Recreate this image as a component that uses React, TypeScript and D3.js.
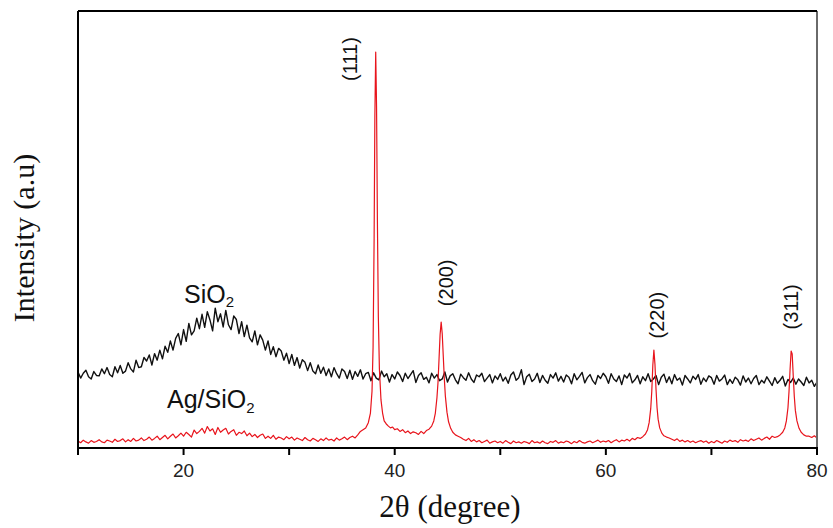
import React from "react";
import * as d3 from "d3";

// ---- data (2θ grid starts at 10°, step 0.25°) ----
const THETA_START = 10;
const THETA_STEP = 0.25;

// SiO2 (black) intensity, a.u.
const sio2Counts: number[] = [
  174,160,171,178,163,158,175,166,
  165,181,170,184,168,163,186,172,
  189,171,176,195,181,174,201,184,
  186,207,199,213,190,216,201,224,
  204,233,219,245,224,251,262,236,
  271,244,285,259,268,297,273,306,
  276,312,293,268,320,289,307,277,
  315,282,271,302,294,262,289,255,
  281,252,243,268,236,259,247,224,
  245,214,232,209,228,222,201,217,
  193,214,189,207,183,202,196,177,
  195,176,170,190,171,185,166,181,
  163,184,170,160,181,175,159,178,
  157,175,164,179,158,170,173,154,
  172,160,156,176,163,170,151,168,
  158,174,166,152,171,159,168,177,
  150,166,172,157,162,149,171,160,
  168,154,158,174,151,165,170,156,
  147,169,161,155,172,158,150,167,
  163,171,152,160,168,149,165,157,
  170,153,162,148,167,174,155,161,
  179,145,163,169,152,158,171,150,
  166,155,148,168,160,172,153,164,
  151,167,162,147,170,156,164,173,
  149,161,168,154,146,166,159,171,
  163,148,170,158,152,165,145,167,
  160,171,149,156,166,147,163,154,
  170,152,158,166,145,162,169,150,
  163,147,168,155,160,144,166,158,
  149,164,157,168,146,160,152,165,
  161,146,166,153,158,167,145,157,
  148,162,156,144,165,151,160,147,
  159,166,145,155,149,163,153,143,
  161,148,155,164,142,157,150,160,
  146,158,151,143,162,149,155,141,
  151,
];

// Ag/SiO2 (red) background intensity; null = inside a peak window (see peak arrays)
const agSio2Counts: (number | null)[] = [
  16,12,18,14,11,17,13,15,
  19,14,12,18,16,13,20,15,
  17,21,14,19,15,22,16,18,
  23,17,20,25,18,22,27,19,
  24,29,21,27,32,23,28,34,
  27,36,31,25,41,33,38,45,
  34,49,39,44,31,47,36,41,
  45,32,38,42,29,36,33,39,
  28,34,26,31,24,29,32,22,
  27,22,29,20,25,23,19,26,
  21,25,18,23,20,17,24,19,
  16,22,19,15,21,17,23,18,
  20,16,23,18,21,25,19,24,
  27,23,null,null,null,null,null,null,
  null,null,null,null,null,null,null,null,
  null,44,38,42,35,39,33,37,
  35,31,38,33,null,null,null,null,
  null,null,null,null,null,null,null,null,
  null,24,20,17,22,15,19,14,
  17,12,15,18,11,14,16,12,
  15,11,17,13,10,16,12,14,
  11,15,13,10,17,12,14,11,
  16,12,10,15,13,17,11,14,
  12,16,14,10,15,12,17,13,
  11,14,16,12,15,18,13,16,
  14,17,12,16,19,14,18,16,
  20,16,22,19,24,null,null,null,
  null,null,null,null,null,null,null,null,
  null,20,17,21,15,18,14,17,
  13,16,12,15,17,13,16,11,
  15,12,17,14,11,16,13,18,
  15,17,13,19,16,18,15,21,
  17,20,23,18,22,25,20,27,
  24,null,null,null,null,null,null,null,
  null,null,null,null,null,27,24,28,
  23,
];

// Ag reflections, [2θ, intensity]
const peak111: [number, number][] = [
  [36.5,30],[36.75,38],[37.0,42],[37.25,46],[37.5,58],[37.7,80],[37.85,130],[37.95,230],
  [38.05,480],[38.12,760],[38.2,906],[38.28,780],[38.36,520],[38.45,300],[38.55,180],
  [38.7,110],[38.85,80],[39.0,62],[39.2,55],[39.4,50],[39.6,46],[39.8,48],[40.0,42],
];
const peak200: [number, number][] = [
  [43.0,40],[43.25,43],[43.5,50],[43.7,62],[43.85,80],[44.0,115],[44.1,150],[44.2,205],
  [44.3,260],[44.4,288],[44.5,262],[44.6,210],[44.7,158],[44.8,118],[44.95,82],[45.1,60],
  [45.3,45],[45.5,36],[45.75,30],[46.0,27],
];
const peak220: [number, number][] = [
  [63.25,22],[63.5,26],[63.75,32],[63.95,42],[64.1,58],[64.25,90],[64.35,130],[64.45,190],
  [64.55,224],[64.65,192],[64.75,135],[64.85,92],[64.95,66],[65.1,46],[65.3,34],[65.5,28],
  [65.75,25],[66.0,23],
];
const peak311: [number, number][] = [
  [76.25,26],[76.5,30],[76.75,36],[76.95,46],[77.1,62],[77.25,92],[77.35,130],[77.45,180],
  [77.55,222],[77.65,215],[77.75,165],[77.85,118],[77.95,86],[78.1,62],[78.3,45],[78.5,36],
  [78.75,30],[79.0,27],
];

const peakLabels = ["(111)", "(200)", "(220)", "(311)"];
const peakLabelTheta = [35.75, 44.85, 64.85, 77.55];
const peakLabelIntensity = [890, 378, 304, 323];

const xTicks = [10, 20, 30, 40, 50, 60, 70, 80];
const xTickLabels = ["", "20", "", "40", "", "60", "", "80"];

// ---- layout ----
const W = 833, H = 528;
const M = { left: 78, right: 817, top: 11, bottom: 448 };

export default function App() {
  const x = d3.scaleLinear().domain([10, 80]).range([M.left, M.right]);
  const y = d3.scaleLinear().domain([0, 1000]).range([M.bottom, M.top]);

  const sio2Pts: [number, number][] = sio2Counts.map((v, i) => [THETA_START + i * THETA_STEP, v]);
  const agPts: [number, number][] = [];
  agSio2Counts.forEach((v, i) => {
    if (v !== null) agPts.push([THETA_START + i * THETA_STEP, v]);
  });
  const agAll = agPts.concat(peak111, peak200, peak220, peak311).sort((a, b) => a[0] - b[0]);

  const line = d3.line<[number, number]>().x((d) => x(d[0])).y((d) => y(d[1]));

  const sans = "'Liberation Sans', Arial, sans-serif";
  const serif = "'Liberation Serif', 'Times New Roman', serif";

  return (
    <svg width={W} height={H} viewBox={`0 0 ${W} ${H}`}
      style={{ position: "absolute", left: 0, top: 0, background: "#fff" }}>
      <defs>
        <clipPath id="plotClip">
          <rect x={M.left} y={M.top} width={M.right - M.left} height={M.bottom - M.top} />
        </clipPath>
      </defs>

      <g clipPath="url(#plotClip)">
        <path d={line(sio2Pts) || ""} fill="none" stroke="#111" strokeWidth={1.4}
          strokeLinejoin="round" />
        <path d={line(agAll) || ""} fill="none" stroke="#e8141c" strokeWidth={1.2}
          strokeLinejoin="round" />
      </g>

      {/* frame */}
      <line x1={M.right} x2={M.right} y1={M.top} y2={M.bottom} stroke="#6a6a6a" strokeWidth={2} />
      <line x1={M.left} x2={M.right} y1={M.top} y2={M.top} stroke="#000" strokeWidth={2} />
      <line x1={M.left} x2={M.left} y1={M.top} y2={M.bottom + 1} stroke="#000" strokeWidth={2} />
      <line x1={M.left} x2={M.right + 1} y1={M.bottom} y2={M.bottom} stroke="#000" strokeWidth={2} />

      {/* x ticks */}
      {xTicks.map((t, i) => (
        <g key={t} transform={`translate(${x(t)},0)`}>
          <line y1={M.bottom} y2={M.bottom + 7} stroke="#000" strokeWidth={2} />
          {xTickLabels[i] && (
            <text y={477} textAnchor="middle" fontFamily={sans} fontSize={19} fill="#222">
              {xTickLabels[i]}
            </text>
          )}
        </g>
      ))}

      {/* axis titles */}
      <text x={450} y={517} textAnchor="middle" fontFamily={serif} fontSize={31} fill="#111">
        2θ (degree)
      </text>
      <text transform={`translate(34,238) rotate(-90)`} textAnchor="middle" fontFamily={serif}
        fontSize={30} fill="#111">
        Intensity (a.u)
      </text>

      {/* peak labels */}
      {peakLabels.map((lab, i) => (
        <text key={lab}
          transform={`translate(${x(peakLabelTheta[i])},${y(peakLabelIntensity[i])}) rotate(-90)`}
          textAnchor="middle" dominantBaseline="central" fontFamily={sans} fontSize={20} fill="#111">
          {lab}
        </text>
      ))}

      {/* series labels */}
      <text x={184} y={303} fontFamily={sans} fontSize={25} fill="#111">
        SiO<tspan fontSize={15} dy={4}>2</tspan>
      </text>
      <text x={167} y={408} fontFamily={sans} fontSize={25} fill="#111">
        Ag/SiO<tspan fontSize={15} dy={5}>2</tspan>
      </text>
    </svg>
  );
}
